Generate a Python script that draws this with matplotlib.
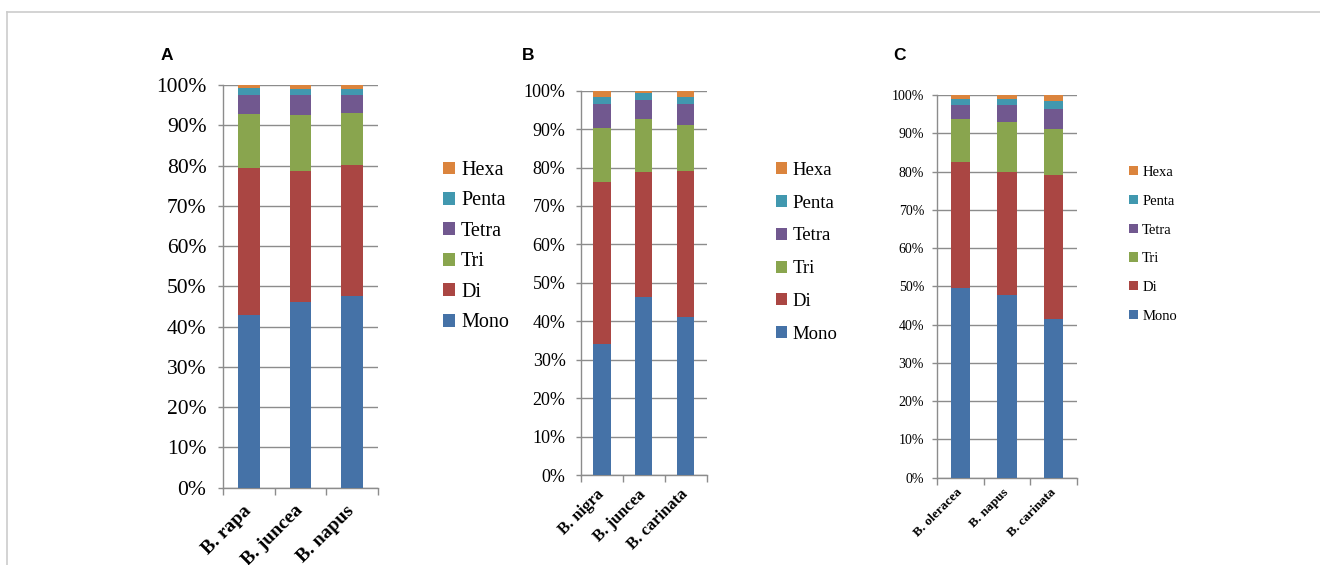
import matplotlib.pyplot as plt
import matplotlib.ticker as mticker
from matplotlib.patches import Patch
from matplotlib.lines import Line2D
import numpy as np

levels = ["Mono", "Di", "Tri", "Tetra", "Penta", "Hexa"]
level_colors = ["#4572A7", "#AA4643", "#89A54E", "#71588F", "#4198AF", "#DB843D"]

# rows follow `levels`, columns follow the species
species_a = ["B. rapa", "B. juncea", "B. napus"]
values_a = [
    [43.0, 46.0, 47.5],
    [36.3, 32.6, 32.6],
    [13.4, 13.9, 12.9],
    [4.8, 5.0, 4.5],
    [1.7, 1.5, 1.5],
    [0.8, 1.0, 1.0],
]

species_b = ["B. nigra", "B. juncea", "B. carinata"]
values_b = [
    [34.1, 46.2, 41.1],
    [42.2, 32.6, 38.0],
    [14.0, 13.8, 12.0],
    [6.3, 5.0, 5.4],
    [1.8, 1.7, 1.8],
    [1.6, 0.7, 1.7],
]

species_c = ["B. oleracea", "B. napus", "B. carinata"]
values_c = [
    [49.6, 47.7, 41.4],
    [33.0, 32.3, 37.6],
    [11.0, 13.0, 12.0],
    [3.8, 4.3, 5.3],
    [1.5, 1.6, 2.1],
    [1.1, 1.1, 1.6],
]

W, H = 1320, 565
fig = plt.figure(figsize=(W / 100, H / 100), dpi=100)

SERIF = "Liberation Serif"
SANS = "Liberation Sans"
GRID = "#8C8C8C"

panels = [
    # letter, species, values, axes box px (left, top, right, bottom), tick fs, xlabel fs,
    # legend fs, legend anchor px, label spacing, tick pad, letter pos px
    ("A", species_a, values_a, (223.3, 85.0, 377.7, 487.7), 15.5, 14, 14.5, (443, 161), 0.57, 8.5, (161, 55)),
    ("B", species_b, values_b, (581.0, 90.7, 706.7, 475.0), 13, 12, 13.5, (776, 162), 0.84, 7.5, (522, 55)),
    ("C", species_c, values_c, (936.7, 95.0, 1077.3, 477.7), 10, 9.5, 10.5, (1129, 166), 1.08, 5.5, (893, 55)),
]

for letter, species, values, box, tfs, xfs, lfs, lpos, lspace, tpad, letter_pos in panels:
    l, t, r, b = box
    ax = fig.add_axes([l / W, 1 - b / H, (r - l) / W, (b - t) / H])
    x = np.arange(len(species))
    bottom = np.zeros(len(species))
    for name, col, vals in zip(levels, level_colors, values):
        vals = np.asarray(vals)
        ax.bar(x, vals, 0.41, bottom=bottom, color=col, label=name, zorder=3)
        bottom += vals

    ax.set_xlim(-0.5, len(species) - 0.5)
    ax.set_ylim(0, 100)
    ax.set_yticks(np.arange(0, 101, 10))
    ax.yaxis.set_major_formatter(mticker.FuncFormatter(lambda y, _: f"{y:.0f}%"))
    ax.grid(axis="y", color=GRID, linewidth=1.0, zorder=0)
    ax.set_axisbelow(True)
    for s in ["top", "right"]:
        ax.spines[s].set_visible(False)
    for s in ["left", "bottom"]:
        ax.spines[s].set_color(GRID)
        ax.spines[s].set_linewidth(1.0)

    ax.tick_params(axis="y", length=3.6, width=1.0, color=GRID, pad=tpad, labelsize=tfs)
    for lab in ax.get_yticklabels():
        lab.set_fontfamily(SERIF)

    ax.set_xticks(x)
    ax.set_xticks(np.arange(-0.5, len(species), 1.0), minor=True)
    ax.tick_params(axis="x", which="major", length=0, pad=tfs * 0.95)
    ax.tick_params(axis="x", which="minor", length=5, width=1.0, color=GRID)
    ax.set_xticklabels(species, rotation=45, ha="right", va="center",
                       rotation_mode="anchor", fontfamily=SERIF,
                       fontweight="bold", fontsize=xfs)

    handles = [Patch(facecolor=c, edgecolor="none", label=n) for n, c in zip(levels, level_colors)]
    fig.legend(handles[::-1], levels[::-1], loc="upper left",
               bbox_to_anchor=(lpos[0] / W, 1 - lpos[1] / H),
               frameon=False, prop={"family": SERIF, "size": lfs},
               handlelength=0.6, handleheight=0.6, handletextpad=0.3,
               labelspacing=lspace, borderpad=0, borderaxespad=0)

    fig.text(letter_pos[0] / W, 1 - letter_pos[1] / H, letter, family=SANS,
             fontweight="bold", fontsize=12.5, ha="left", va="center")

# outer frame of the figure panel
fig.add_artist(Line2D([7 / W, 7 / W], [0, 1 - 12 / H], transform=fig.transFigure,
                      color="#CCCCCC", linewidth=1.2))
fig.add_artist(Line2D([7 / W, 1], [1 - 12 / H, 1 - 12 / H], transform=fig.transFigure,
                      color="#CCCCCC", linewidth=1.2))

fig.savefig("out.png", dpi=100)
